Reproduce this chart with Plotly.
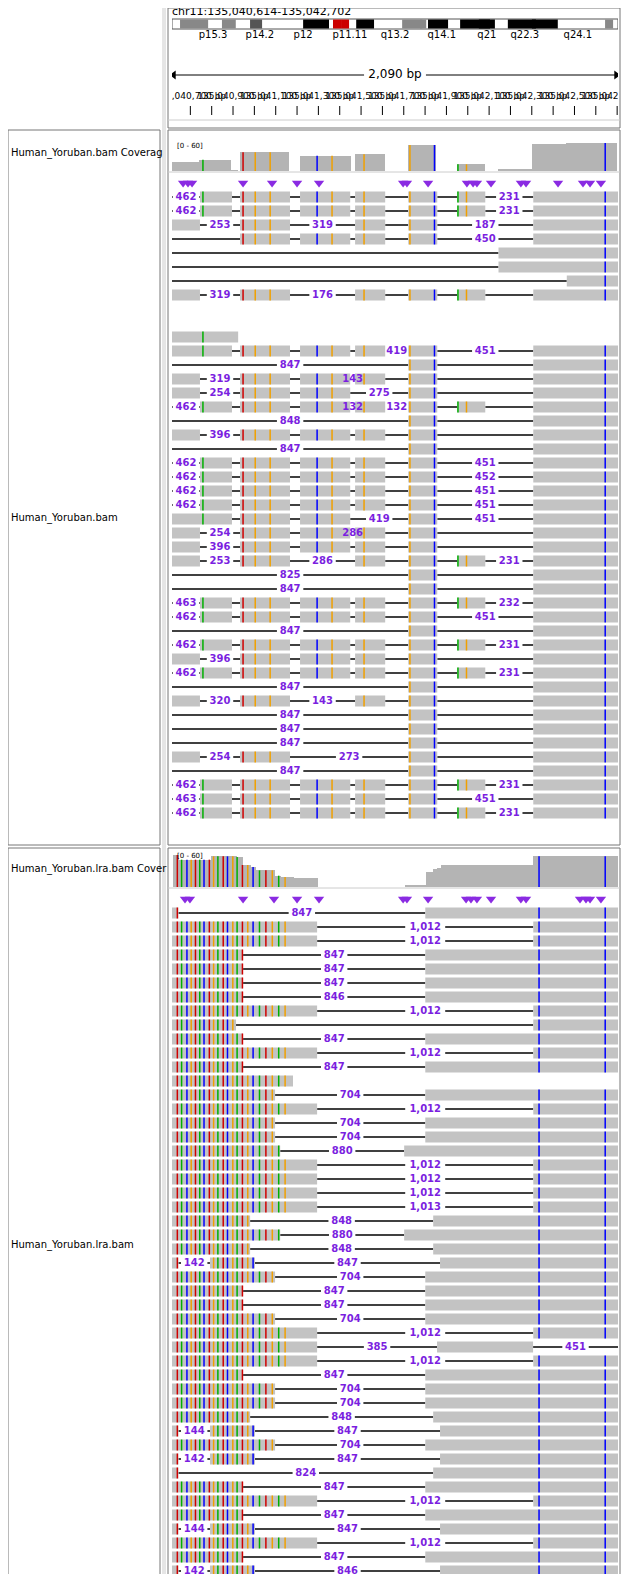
import plotly.graph_objects as go

START = 135040614
SPAN = 2090

# ---------------- data ----------------
band_names = ["p15.3", "p14.2", "p12", "p11.11", "q13.2", "q14.1", "q21", "q22.3", "q24.1"]
band_label_pos = [0.092, 0.197, 0.294, 0.399, 0.5, 0.605, 0.706, 0.791, 0.910]
bands_start = [0.018, 0.112, 0.175, 0.294, 0.361, 0.379, 0.413, 0.516, 0.556, 0.574, 0.646, 0.688, 0.753, 0.807, 0.971]
bands_end = [0.081, 0.143, 0.202, 0.352, 0.379, 0.397, 0.453, 0.561, 0.570, 0.619, 0.713, 0.724, 0.816, 0.865, 0.989]
bands_color = ["#888888", "#888888", "#555555", "#000000", "#cc0000", "#cc0000", "#000000", "#888888", "#888888",
               "#000000", "#000000", "#000000", "#000000", "#000000", "#888888"]

t1_exons = {"L": (0, 131), "A": (131, 281), "B": (319, 553), "C": (600, 835), "D": (858, 999),
            "E": (1107, 1243), "F": (1337, 1468), "G": (1693, 2090), "G2": (1530, 2090),
            "G3": (1850, 2090), "S": (0, 310), "H": (440, 1000)}
t1_rows = [
    "462 A B C D E F 231 G", "462 A B C D E F 231 G", "L 253 B 319 D E 187 G", "B C D E 450 G",
    "G2", "G2", "G3", "L 319 B 176 D E F G", "", "", "S",
    "L A B C D 419 E 451 G", "847 E G", "L 319 B C 143 D E G", "L 254 B C 275 E G",
    "462 A B C 132 D 132 E F G", "848 E G", "L 396 B C D E G", "847 E G",
    "462 A B C D E 451 G", "462 A B C D E 452 G", "462 A B C D E 451 G", "462 A B C D E 451 G",
    "L A B C 419 E 451 G", "L 254 B C 286 D E G", "L 396 B C D E G", "L 253 B 286 D E F 231 G",
    "825 E G", "847 E G", "463 A B C D E F 232 G", "462 A B C D E 451 G", "847 E G",
    "462 A B C D E F 231 G", "L 396 B C D E G", "462 A B C D E F 231 G", "847 E G",
    "L 320 B 143 D E G", "847 E G", "847 E G", "847 E G", "L 254 B 273 E G", "847 E G",
    "462 A B C D E F 231 G", "463 A B C D E 451 G", "462 A B C D E F 231 G",
]
t1_mismatch_pos = [145, 333, 390, 460, 680, 750, 900, 1115, 1230, 1340, 1380, 2030]
t1_mismatch_col = ["#00b000", "#d00000", "#f0a000", "#f0a000", "#0000ff", "#f0a000",
                   "#f0a000", "#f0a000", "#0000ff", "#00b000", "#f0a000", "#0000ff"]
t1_ins = [52, 75, 94, 333, 469, 586, 689, 1083, 1101, 1200, 1382, 1411, 1429, 1495, 1635, 1659, 1809, 1926, 1959, 2010]

t2_exons = {"P": (0, 333), "Q": (0, 680), "R": (1187, 2090), "S": (1693, 2090), "K": (0, 483),
            "M": (0, 507), "N": (1088, 2090), "O": (0, 366), "U": (1224, 2090), "H": (0, 567),
            "W": (0, 300), "X": (1242, 1692), "Z1": (0, 30), "Z2": (178, 389), "Z3": (1256, 2090)}
t2_rows = [
    "Z1 847 R", "Q 1,012 S", "Q 1,012 S", "P 847 R", "P 847 R", "P 847 R", "P 846 R", "Q 1,012 S",
    "W S", "P 847 R", "Q 1,012 S", "P 847 R", "H", "K 704 R", "Q 1,012 S", "K 704 R", "K 704 R",
    "M 880 N", "Q 1,012 S", "Q 1,012 S", "Q 1,012 S", "Q 1,013 S", "O 848 U", "M 880 N", "O 848 U",
    "Z1 142 Z2 847 Z3", "K 704 R", "P 847 R", "P 847 R", "K 704 R", "Q 1,012 S", "Q 385 X 451",
    "Q 1,012 S", "P 847 R", "K 704 R", "K 704 R", "O 848 U", "Z1 144 Z2 847 Z3", "K 704 R",
    "Z1 142 Z2 847 Z3", "Z1 824 U", "P 847 R", "Q 1,012 S", "P 847 R", "Z1 144 Z2 847 Z3",
    "Q 1,012 S", "P 847 R", "Z1 142 Z2 846 Z3",
]
t2_mismatch_pos = [25, 45, 70, 90, 110, 130, 150, 175, 195, 215, 240, 260, 285, 305, 330, 355, 380,
                   410, 440, 470, 500, 530, 1720, 2030]
t2_mismatch_col = ["#d00000", "#00b000", "#0000ff", "#f0a000", "#d00000", "#00b000", "#0000ff", "#d00000",
                   "#f0a000", "#00b000", "#d00000", "#0000ff", "#f0a000", "#00b000", "#d00000", "#f0a000",
                   "#0000ff", "#00b000", "#d00000", "#f0a000", "#00b000", "#f0a000", "#0000ff", "#0000ff"]
t2_ins = [61, 84, 333, 478, 586, 689, 1083, 1101, 1200, 1378, 1401, 1429, 1495, 1635, 1659, 1912, 1940, 1959, 2010]

track_labels = ["Human_Yoruban.bam Coverag", "Human_Yoruban.bam", "Human_Yoruban.lra.bam Cover", "Human_Yoruban.lra.bam"]
tick_positions = list(range(135040700, 135042701, 100))
locus = "chr11:135,040,614-135,042,702"

# ---------------- layout constants ----------------
PX = 4.686  # bp per pixel
PURPLE = "#7b1fe0"
READ = "#c3c3c3"
OFF = 8                      # page body margin of the browser
W, H = 640 - OFF, 1574 - OFF

fig = go.Figure()


def px(x):
    return (x - OFF) / W


def py(y):
    return 1 - (y - OFF) / H


def rect(xs, ys, x0, x1, y0, y1):
    xs += [x0, x1, x1, x0, x0, None]
    ys += [y0, y0, y1, y1, y0, None]


def render(rows, exons, y0, mm_pos, mm_col):
    bx, by, lx, ly, tx, ty, tt = [], [], [], [], [], [], []
    mm = {}
    covered = []
    for i, row in enumerate(rows):
        y = y0 + i * 14
        prev_end = 0
        pending = None
        blocks = []
        for t in row.split():
            if t in exons:
                s, e = exons[t]
                if s > prev_end:
                    blocks.append(("line", prev_end, s, pending))
                pending = None
                blocks.append(("blk", s, e, None))
                prev_end = max(prev_end, e)
            else:
                pending = t
        if pending is not None:
            blocks.append(("line", prev_end, SPAN, pending))
        segs = []
        for kind, s, e, lab in blocks:
            if kind == "blk":
                rect(bx, by, s, e, y - 5.5, y + 5.5)
                segs.append((s, e))
            else:
                if lab:
                    mid = (s + e) / 2
                    half = (len(lab) * 3.4 + 3) * PX
                    for a, b in [(s, mid - half), (mid + half, e)]:
                        if b > a:
                            lx.extend([a, b, None]); ly.extend([y, y, None])
                    tx.append(mid); ty.append(y); tt.append("<b>%s</b>" % lab)
                else:
                    lx.extend([s, e, None]); ly.extend([y, y, None])
        covered.append(segs)
        for p, c in zip(mm_pos, mm_col):
            if any(s <= p <= e for s, e in segs):
                d = mm.setdefault(c, ([], []))
                d[0].extend([p, p, None]); d[1].extend([y - 5.5, y + 5.5, None])
    fig.add_trace(go.Scatter(x=lx, y=ly, mode="lines", line=dict(color="black", width=1.5), hoverinfo="skip"))
    fig.add_trace(go.Scatter(x=bx, y=by, mode="lines", fill="toself", fillcolor=READ,
                             line=dict(width=0, color=READ), hoverinfo="skip"))
    for c, (xs, ys) in mm.items():
        fig.add_trace(go.Scatter(x=xs, y=ys, mode="lines", line=dict(color=c, width=1.5), hoverinfo="skip"))
    fig.add_trace(go.Scatter(x=tx, y=ty, mode="text", text=tt,
                             textfont=dict(color=PURPLE, size=10, family="DejaVu Sans"), hoverinfo="skip"))
    return covered


def coverage(covered, base, hmax, mm_pos, mm_col):
    bins = list(range(0, SPAN, 10))
    counts = [sum(1 for segs in covered if any(s <= b + 5 <= e for s, e in segs)) for b in bins]
    m = max(counts) or 1
    h = [-c / m * hmax for c in counts]
    fig.add_trace(go.Bar(x=[b + 5 for b in bins], y=h, base=base, width=10,
                         marker=dict(color="#b4b4b4", line=dict(width=0)), hoverinfo="skip"))
    for p, c in zip(mm_pos, mm_col):
        hh = counts[min(p // 10, len(counts) - 1)] / m * hmax
        fig.add_trace(go.Scatter(x=[p, p], y=[base, base - hh], mode="lines",
                                 line=dict(color=c, width=1.5), hoverinfo="skip"))


cov1 = render(t1_rows, t1_exons, 197, t1_mismatch_pos, t1_mismatch_col)
cov2 = render(t2_rows, t2_exons, 913, t2_mismatch_pos, t2_mismatch_col)
coverage(cov1, 171, 28, t1_mismatch_pos, t1_mismatch_col)
coverage(cov2, 887, 32, t2_mismatch_pos, t2_mismatch_col)

for ins, yy in [(t1_ins, 183), (t2_ins, 899)]:
    fig.add_trace(go.Scatter(x=ins, y=[yy] * len(ins), mode="markers",
                             marker=dict(symbol="triangle-down", size=9, color="#8a2be2"), hoverinfo="skip"))

# ideogram
ix, iy = [], []
rect(ix, iy, 0, 1, 19, 29)
fig.add_trace(go.Scatter(x=ix, y=iy, xaxis="x2", mode="lines", fill="toself", fillcolor="white",
                         line=dict(color="#555", width=1), hoverinfo="skip"))
for s, e, c in zip(bands_start, bands_end, bands_color):
    xs, ys = [], []
    rect(xs, ys, s, e, 19.5, 28.5)
    fig.add_trace(go.Scatter(x=xs, y=ys, xaxis="x2", mode="lines", fill="toself", fillcolor=c,
                             line=dict(width=0, color=c), hoverinfo="skip"))
fig.add_trace(go.Scatter(x=band_label_pos, y=[35] * len(band_names), xaxis="x2", mode="text", text=band_names,
                         textfont=dict(size=10, color="black", family="DejaVu Sans"), hoverinfo="skip"))
fig.add_trace(go.Scatter(x=[0.0], y=[12], xaxis="x2", mode="text", text=[locus], textposition="middle right",
                         textfont=dict(size=11, color="black", family="DejaVu Sans"), hoverinfo="skip",
                         cliponaxis=False))

# ruler
tp = [p - START for p in tick_positions]
rx, ry = [], []
for p in tp:
    rx.extend([p, p, None]); ry.extend([106, 115, None])
fig.add_trace(go.Scatter(x=rx, y=ry, mode="lines", line=dict(color="black", width=1), hoverinfo="skip"))
fig.add_trace(go.Scatter(x=tp[::2], y=[97] * len(tp[::2]),
                         text=["{:,}".format(p) + " bp" for p in tick_positions[::2]], mode="text",
                         textfont=dict(size=9, color="black", family="DejaVu Sans"), hoverinfo="skip"))
fig.add_trace(go.Scatter(x=[0, 900, None, 1190, SPAN], y=[75, 75, None, 75, 75], mode="lines",
                         line=dict(color="black", width=1), hoverinfo="skip"))
fig.add_trace(go.Scatter(x=[8, SPAN - 8], y=[75, 75], mode="markers",
                         marker=dict(symbol=["triangle-left", "triangle-right"], size=8, color="black"),
                         hoverinfo="skip"))
fig.add_trace(go.Scatter(x=[1045], y=[75], mode="text", text=["2,090 bp"],
                         textfont=dict(size=12, color="black", family="DejaVu Sans"), hoverinfo="skip"))

shapes = []
for x0, y0, x1, y1 in [(OFF, 130, 160, 845), (OFF, 848, 160, 1580), (168, 130, 620, 845), (168, 848, 620, 1580),
                       (168, OFF, 620, 128)]:
    shapes.append(dict(type="rect", xref="paper", yref="paper", x0=px(x0), x1=px(x1), y0=py(y0), y1=py(y1),
                       line=dict(color="#777", width=1), layer="below"))
for yy in [120, 172, 888]:
    shapes.append(dict(type="line", xref="paper", yref="paper", x0=px(168), x1=px(620), y0=py(yy), y1=py(yy),
                       line=dict(color="#ccc", width=1), layer="below"))
for xx in [163, 165]:
    shapes.append(dict(type="line", xref="paper", yref="paper", x0=px(xx), x1=px(xx), y0=0, y1=1,
                       line=dict(color="#ccc", width=1), layer="below"))

ann = []
for lab, yy in zip(track_labels, [145, 510, 869, 1253]):
    ann.append(dict(xref="paper", yref="paper", x=px(OFF + 1), y=py(yy), text=lab, showarrow=False,
                    xanchor="left", font=dict(size=10, family="DejaVu Sans", color="black")))
for yy in [140, 856]:
    ann.append(dict(xref="paper", yref="paper", x=px(175), y=py(yy), text="[0 - 60]", showarrow=False,
                    xanchor="left", font=dict(size=7, family="DejaVu Sans", color="black")))

d0, d1 = px(172), px(618)
fig.update_layout(
    width=W, height=H, margin=dict(l=0, r=0, t=0, b=0), showlegend=False,
    paper_bgcolor="white", plot_bgcolor="rgba(0,0,0,0)", bargap=0, shapes=shapes, annotations=ann,
    xaxis=dict(domain=[d0, d1], range=[0, SPAN], visible=False),
    xaxis2=dict(domain=[d0, d1], range=[0, 1], visible=False, anchor="y", overlaying="x"),
    yaxis=dict(domain=[0, 1], range=[1574, OFF], visible=False),
)
fig.write_html("out.html")
